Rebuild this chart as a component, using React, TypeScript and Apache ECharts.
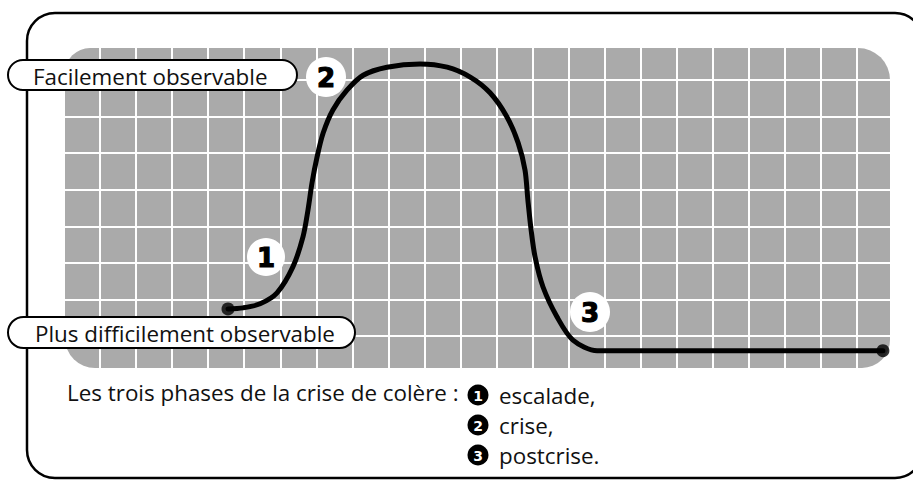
import React, { useEffect, useRef } from "react";
import * as echarts from "echarts";

// Curve of the anger episode, in grid cells (x: 0..23 columns, y: 0..9 rows)
const curveX = [4.55, 4.97, 5.44, 5.91, 6.35, 6.63, 6.77, 6.88, 7.02, 7.19, 7.46, 7.85, 8.3, 8.96, 9.88, 10.63, 11.27, 11.82, 12.29, 12.6, 12.79, 12.87, 12.96, 13.07, 13.29, 13.68, 14.12, 14.79, 15.43, 22.72];
const curveY = [1.74, 1.77, 1.88, 2.18, 2.89, 3.71, 4.45, 5.18, 5.89, 6.55, 7.18, 7.72, 8.13, 8.35, 8.44, 8.35, 8.08, 7.65, 6.99, 6.28, 5.54, 4.72, 3.9, 3.16, 2.34, 1.52, 0.89, 0.6, 0.6, 0.6];

const phaseNumbers = ["1", "2", "3"];
const phaseNames = ["escalade,", "crise,", "postcrise."];
const levelLabels = ["Facilement observable", "Plus difficilement observable"];
const caption = "Les trois phases de la crise de colère :";

const X_MAX = 23;
const Y_MAX = 9;

const FONT = "'Open Sans', sans-serif";
const BADGE_FONT = "'DejaVu Sans', sans-serif";
const TEXT_SIZE = 22.4;

export default function App() {
  const ref = useRef<HTMLDivElement>(null);

  useEffect(() => {
    if (!ref.current) return;
    const chart = echarts.init(ref.current, null, { renderer: "svg" });
    const data = curveX.map((x, i) => [x, curveY[i]]);
    const ends = [data[0], data[data.length - 1]];

    const pill = (x: number, y: number, w: number, h: number, text: string, tx: number) => [
      {
        type: "rect",
        z: 10,
        shape: { x, y, width: w, height: h, r: h / 2 },
        style: { fill: "#ffffff", stroke: "#000000", lineWidth: 2 },
      },
      {
        type: "text",
        z: 11,
        x: tx,
        y: y + h / 2 + 1,
        style: { text, fontFamily: FONT, fontSize: TEXT_SIZE, fill: "#111111", align: "left", verticalAlign: "middle" },
      },
    ];

    const badge = (cx: number, cy: number, r: number, text: string) => [
      { type: "circle", z: 10, shape: { cx, cy, r }, style: { fill: "#ffffff" } },
      {
        type: "text",
        z: 11,
        x: cx,
        y: cy + 1,
        style: {
          text,
          fontFamily: BADGE_FONT,
          fontWeight: "bold",
          fontSize: 26,
          fill: "#000000",
          stroke: "#000000",
          lineWidth: 1.2,
          align: "center",
          verticalAlign: "middle",
        },
      },
    ];

    const legendItem = (cy: number, num: string, name: string) => [
      { type: "circle", z: 10, shape: { cx: 478, cy, r: 10.5 }, style: { fill: "#000000" } },
      {
        type: "text",
        z: 11,
        x: 478,
        y: cy + 1,
        style: { text: num, fontFamily: BADGE_FONT, fontWeight: "bold", fontSize: 14, fill: "#ffffff", align: "center", verticalAlign: "middle" },
      },
      {
        type: "text",
        z: 11,
        x: 499,
        y: cy,
        style: { text: name, fontFamily: FONT, fontSize: TEXT_SIZE, fill: "#111111", align: "left", verticalAlign: "middle" },
      },
    ];

    const graphics: any[] = [
      {
        type: "rect",
        z: 0,
        shape: { x: 27, y: 13, width: 896, height: 465, r: 28 },
        style: { fill: "none", stroke: "#000000", lineWidth: 2.5 },
      },
      {
        type: "rect",
        z: 0,
        shape: { x: 65, y: 48, width: 825, height: 320, r: [25, 32, 28, 30] },
        style: { fill: "#aaaaaa" },
      },
      ...pill(8, 60, 289, 30, levelLabels[0], 33),
      ...pill(8, 317, 347, 31, levelLabels[1], 35),
      ...badge(266, 257, 19, phaseNumbers[0]),
      ...badge(326, 77, 20, phaseNumbers[1]),
      ...badge(590, 312, 20, phaseNumbers[2]),
      {
        type: "text",
        z: 11,
        x: 67,
        y: 392,
        style: { text: caption, fontFamily: FONT, fontSize: TEXT_SIZE, fill: "#111111", align: "left", verticalAlign: "middle" },
      },
      ...legendItem(395, phaseNumbers[0], phaseNames[0]),
      ...legendItem(425, phaseNumbers[1], phaseNames[1]),
      ...legendItem(455, phaseNumbers[2], phaseNames[2]),
    ];

    const axisCommon = {
      type: "value" as const,
      min: 0,
      interval: 1,
      z: 1,
      axisLine: { show: false },
      axisTick: { show: false },
      axisLabel: { show: false },
      splitLine: { show: true, lineStyle: { color: "#ffffff", width: 2 } },
    };

    chart.setOption({
      animation: false,
      backgroundColor: "#ffffff",
      grid: { left: 64, top: 43.4, width: 829, height: 329.2, containLabel: false },
      xAxis: { ...axisCommon, max: X_MAX },
      yAxis: { ...axisCommon, max: Y_MAX },
      graphic: { elements: graphics },
      series: [
        {
          type: "line",
          data,
          smooth: 0.3,
          symbol: "none",
          z: 3,
          lineStyle: { color: "#000000", width: 5, cap: "round" },
        },
        {
          type: "scatter",
          data: ends,
          symbolSize: 13,
          z: 4,
          itemStyle: { color: "#000000" },
        },
      ],
    });

    return () => chart.dispose();
  }, []);

  return (
    <div
      ref={ref}
      style={{ position: "fixed", left: 0, top: 0, width: 913, height: 481, background: "#ffffff" }}
    />
  );
}
